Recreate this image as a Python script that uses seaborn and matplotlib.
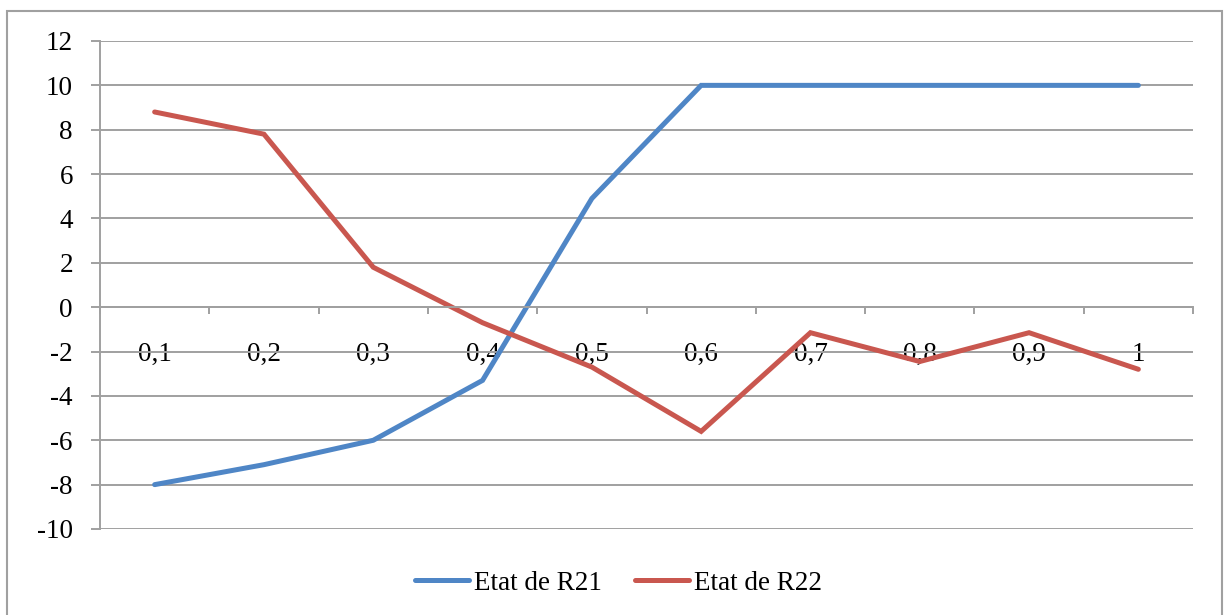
import pandas as pd
import seaborn as sns
import matplotlib.pyplot as plt
from matplotlib.patches import Rectangle

# donnees
categories = ['0,1', '0,2', '0,3', '0,4', '0,5', '0,6', '0,7', '0,8', '0,9', '1']
etat_r21 = [-8, -7.1, -6, -3.3, 4.9, 10, 10, 10, 10, 10]
etat_r22 = [8.8, 7.8, 1.8, -0.7, -2.7, -5.6, -1.15, -2.45, -1.15, -2.8]
series = ['Etat de R21', 'Etat de R22']
y_ticks = list(range(-10, 13, 2))

df = pd.DataFrame({
    'x': categories * 2,
    'valeur': etat_r21 + etat_r22,
    'serie': [series[0]] * len(categories) + [series[1]] * len(categories),
})

sns.set_style('white')
plt.rcParams['font.family'] = ['Liberation Serif', 'DejaVu Serif']
plt.rcParams['text.color'] = 'black'
plt.rcParams['xtick.color'] = 'black'
plt.rcParams['ytick.color'] = 'black'

fig = plt.figure(figsize=(12.25, 6.15), dpi=100)
ax = fig.add_axes([100 / 1225, 1 - 529 / 615, 1093 / 1225, 488 / 615])

gris = '#a0a0a0'
taille = 19.5
sns.lineplot(data=df, x='x', y='valeur', hue='serie', sort=False,
             palette=['#4f86c6', '#c9574f'], linewidth=3.6, ax=ax,
             solid_capstyle='round', solid_joinstyle='miter')

ax.set_xlim(-0.5, len(categories) - 0.5)
ax.set_ylim(-10, 12)
ax.set_yticks(y_ticks)
ax.set_yticklabels([str(v) for v in y_ticks], fontsize=taille)
ax.yaxis.grid(True, color=gris, linewidth=1.4)
ax.set_axisbelow(True)

# axe des x sur la ligne zero, graduations entre les categories
ax.spines['bottom'].set_position(('data', 0))
ax.set_xticks([i - 0.5 for i in range(len(categories) + 1)])
ax.set_xticklabels([])
ax.set_xticks(range(len(categories)), minor=True)
ax.set_xticklabels(categories, minor=True, fontsize=taille)
ax.tick_params(axis='x', which='major', bottom=True, direction='out',
               length=5, width=1.4, color=gris)
ax.tick_params(axis='x', which='minor', bottom=True, length=0, pad=25)
ax.tick_params(axis='y', left=True, direction='out', length=6.5,
               width=1.4, color=gris, pad=13)

for cote in ['top', 'right']:
    ax.spines[cote].set_visible(False)
for cote in ['left', 'bottom']:
    ax.spines[cote].set_color(gris)
    ax.spines[cote].set_linewidth(1.4)

ax.set_xlabel('')
ax.set_ylabel('')

ax.legend(loc='center', bbox_to_anchor=(0.505, 0.052),
          bbox_transform=fig.transFigure, ncol=2, frameon=False,
          fontsize=taille, handlelength=2.0, handletextpad=0.2,
          columnspacing=1.2)

# cadre du graphique
fig.patches.append(Rectangle((7 / 1225, -0.05), 1215 / 1225, 1.05 - 11 / 615,
                             transform=fig.transFigure, fill=False,
                             edgecolor=gris, linewidth=1.5))

fig.savefig('out.png', dpi=100)
